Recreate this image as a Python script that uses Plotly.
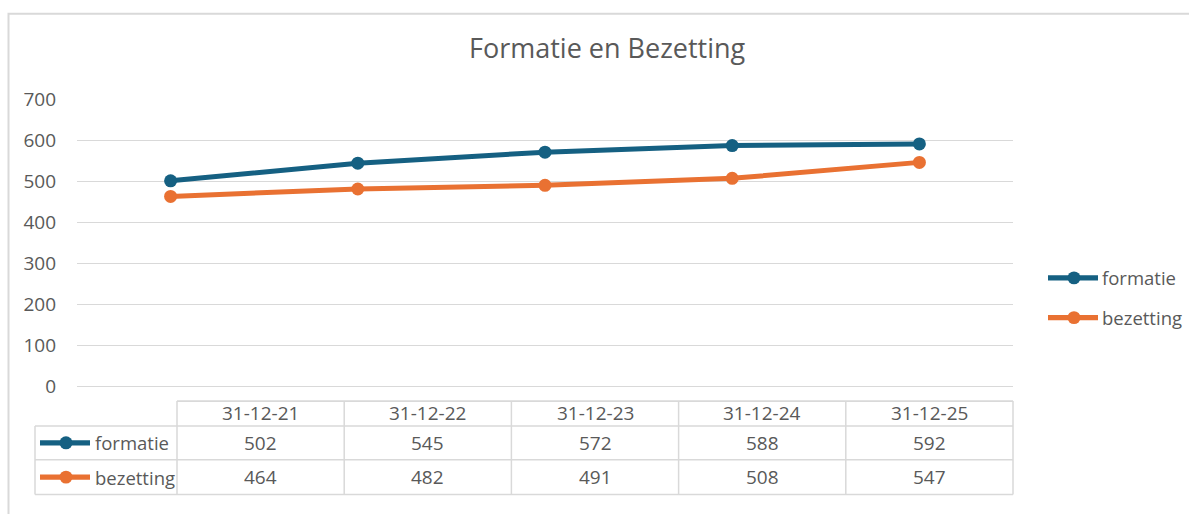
import plotly.graph_objects as go

# ---- data ----
categories = ["31-12-21", "31-12-22", "31-12-23", "31-12-24", "31-12-25"]
formatie = [502, 545, 572, 588, 592]
bezetting = [464, 482, 491, 508, 547]
series_names = ["formatie", "bezetting"]
title_text = "Formatie en Bezetting"

# ---- style ----
W, H = 1189, 514
BLUE = "#156082"
ORANGE = "#E97132"
GRID = "#d9d9d9"
TXT = "#595959"
FONT = "Open Sans"
FS = 19
FS_LBL = 18.5

# vertical calibration of the captured picture (picture y -> page y)
VS = 538 / 514
VOFF = 12

def px(x):
    return x / W

def py(y):
    return 1 - (y * VS - VOFF) / H

plot_left, plot_right = 77, 1013
plot_top, plot_bottom = 98.7, 387.3

fig = go.Figure()
series = [(series_names[0], formatie, BLUE), (series_names[1], bezetting, ORANGE)]
for name, vals, col in series:
    fig.add_trace(go.Scatter(
        x=categories, y=vals, name=name, mode="lines+markers",
        line=dict(color=col, width=5), marker=dict(color=col, size=13),
        showlegend=False, hoverinfo="x+y+name"))

shapes = []
annotations = []

# outer border
shapes.append(dict(type="rect", xref="paper", yref="paper",
                   x0=px(8.5), x1=px(W + 20), y0=py(12.3), y1=py(H + 40),
                   line=dict(color=GRID, width=2), fillcolor="rgba(0,0,0,0)", layer="below"))

# ---- data table ----
tbl_left = 177
tbl_right = plot_right
lbl_left = 35
ncol = len(categories)
colw = (tbl_right - tbl_left) / ncol
row_y = [402, 427, 461, 496]

def hline(x0, x1, y):
    shapes.append(dict(type="line", xref="paper", yref="paper", x0=px(x0), x1=px(x1),
                       y0=py(y), y1=py(y), line=dict(color=GRID, width=1.6)))

def vline(x, y0, y1):
    shapes.append(dict(type="line", xref="paper", yref="paper", x0=px(x), x1=px(x),
                       y0=py(y0), y1=py(y1), line=dict(color=GRID, width=1.5)))

hline(tbl_left, tbl_right, row_y[0])
for y in row_y[1:]:
    hline(lbl_left, tbl_right, y)
vline(lbl_left, row_y[1], row_y[3])
for i in range(ncol + 1):
    vline(tbl_left + i * colw, row_y[0], row_y[3])

def txt(x, y, s, anchor="center", size=FS):
    annotations.append(dict(xref="paper", yref="paper", x=px(x), y=py(y), text=s,
                            showarrow=False, xanchor=anchor, yanchor="middle",
                            font=dict(family=FONT, size=size, color=TXT)))

for i, c in enumerate(categories):
    cx = tbl_left + (i + 0.5) * colw
    txt(cx, (row_y[0] + row_y[1]) / 2 - 1, c)
    txt(cx, (row_y[1] + row_y[2]) / 2, str(formatie[i]))
    txt(cx, (row_y[2] + row_y[3]) / 2, str(bezetting[i]))

def legend_glyph(x0, x1, xc, y, col):
    shapes.append(dict(type="line", xref="paper", yref="paper", x0=px(x0), x1=px(x1),
                       y0=py(y), y1=py(y), line=dict(color=col, width=5.2)))
    r = 6.5
    shapes.append(dict(type="circle", xref="paper", yref="paper",
                       x0=px(xc - r), x1=px(xc + r), y0=py(y - r), y1=py(y + r),
                       line=dict(color=col, width=0), fillcolor=col))

for k, (name, vals, col) in enumerate(series):
    yc = (row_y[k + 1] + row_y[k + 2]) / 2
    legend_glyph(40, 90, 66, yc, col)
    txt(93, yc, name, anchor="left", size=FS_LBL)

# right legend
for k, (name, vals, col) in enumerate(series):
    yc = 278 + 40 * k
    legend_glyph(1048, 1098, 1074, yc, col)
    txt(1100, yc, name, anchor="left", size=FS_LBL)

# title
annotations.append(dict(xref="paper", yref="paper", x=px(607), y=py(46), text=title_text,
                        showarrow=False, xanchor="center", yanchor="middle",
                        font=dict(family=FONT, size=27, color=TXT)))

fig.update_layout(
    width=W, height=H,
    margin=dict(l=0, r=0, t=0, b=0),
    paper_bgcolor="white", plot_bgcolor="white",
    showlegend=False,
    shapes=shapes, annotations=annotations,
    font=dict(family=FONT, size=FS, color=TXT),
    xaxis=dict(type="category", range=[-0.5, ncol - 0.5],
               domain=[px(plot_left), px(plot_right)],
               showgrid=False, showticklabels=False, showline=False, zeroline=False, ticks=""),
    yaxis=dict(range=[0, 700], dtick=100, domain=[py(plot_bottom), py(plot_top)],
               showgrid=True, gridcolor=GRID, gridwidth=1,
               zeroline=True, zerolinecolor=GRID, zerolinewidth=1,
               showline=False, ticks="", ticklabelstandoff=20,
               tickfont=dict(family=FONT, size=FS, color=TXT)),
)

page_js = (
    "var gd=document.getElementById('{plot_id}');"
    "gd.style.position='absolute';gd.style.top='0px';gd.style.left='0px';"
    "document.documentElement.style.margin='0';document.documentElement.style.padding='0';"
    "document.documentElement.style.overflow='hidden';"
    "document.body.style.margin='0';document.body.style.padding='0';"
    "document.body.style.overflow='hidden';"
    "document.body.style.height='514px';document.documentElement.style.height='514px';"
)

fig.write_html("out.html", config={"displayModeBar": False}, post_script=page_js)
